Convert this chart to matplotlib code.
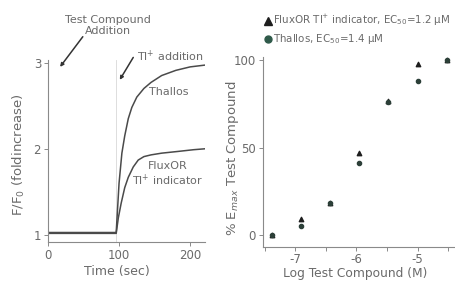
"""Two panels: Tl+ flux traces over time and concentration-response of a test compound."""
import matplotlib

matplotlib.use("Agg")
import matplotlib.pyplot as plt  # noqa: E402
from matplotlib.lines import Line2D  # noqa: E402

# left panel: fluorescence traces (F/F0)
thallos_t = [0, 96, 100, 104, 108, 113, 118, 125, 135, 145, 160, 180, 200, 220]
thallos_v = [1.03, 1.03, 1.6, 1.95, 2.15, 2.35, 2.48, 2.6, 2.7, 2.77, 2.85, 2.91, 2.95, 2.97]
fluxor_t = [0, 96, 99, 103, 108, 113, 120, 127, 135, 145, 160, 183, 205, 220]
fluxor_v = [1.02, 1.02, 1.2, 1.37, 1.55, 1.67, 1.79, 1.87, 1.91, 1.93, 1.95, 1.97, 1.99, 2.0]
step_time = 96

# right panel: % Emax vs log concentration
log_conc = [-7.38, -6.9, -6.43, -5.95, -5.48, -5.0, -4.52]
fluxor_pct = [0, 9, 18, 47, 77, 98, 100]
thallos_pct = [0, 5, 18, 41, 76, 88, 100]

TXT = "#6a6a6a"
LINE = "#4a4a4a"
SPINE = "#8a8a8a"

plt.rcParams["font.family"] = ["DejaVu Sans"]

fig = plt.figure(figsize=(4.56, 2.82), dpi=100)
W, H = 456, 282


def style(ax):
    for s in ("top", "right"):
        ax.spines[s].set_visible(False)
    for s in ("left", "bottom"):
        ax.spines[s].set_color(SPINE)
        ax.spines[s].set_linewidth(0.8)
    ax.tick_params(length=3, width=0.7, color=SPINE, labelcolor=TXT,
                   labelsize=8.5, pad=2)


# ---- left panel
ax1 = fig.add_axes([48 / W, 1 - 242 / H, (205 - 48) / W, (242 - 60) / H])
style(ax1)
ax1.axvline(step_time, color="#d8d8d8", lw=0.6, zorder=0)
ax1.plot(thallos_t, thallos_v, color=LINE, lw=1.1)
ax1.plot(fluxor_t, fluxor_v, color=LINE, lw=1.1)
ax1.set_xlim(0, 221)
ax1.set_ylim(0.92, 3.03)
ax1.set_xticks([0, 100, 200])
ax1.set_yticks([1, 2, 3])

arrow = dict(arrowstyle="-|>", color="#333333", lw=1.1, mutation_scale=5,
             shrinkA=0, shrinkB=0)
ax1.annotate("", xy=(17, 2.95), xytext=(49, 3.3), arrowprops=arrow,
             annotation_clip=False)
ax1.annotate("", xy=(101, 2.8), xytext=(120, 3.06), arrowprops=arrow,
             annotation_clip=False)
ax1.text(85, 3.43, "Test Compound\nAddition", ha="center", va="center",
         fontsize=8, color=TXT, linespacing=1.05, clip_on=False)
ax1.text(125, 3.07, "Tl$^{+}$ addition", ha="left", va="center",
         fontsize=8, color=TXT, clip_on=False)
ax1.text(142, 2.66, "Thallos", ha="left", va="center", fontsize=8, color=TXT)
ax1.text(168, 1.7, "FluxOR\nTl$^{+}$ indicator", ha="center", va="center",
         fontsize=8, color=TXT, linespacing=1.15)

fig.text(19 / W, 1 - 155 / H, "F/F$_0$ (foldincrease)", rotation=90,
         ha="center", va="center", fontsize=9.5, color=TXT)
fig.text(117 / W, 1 - 272 / H, "Time (sec)", ha="center", va="center",
         fontsize=9, color=TXT)

# ---- right panel
ax2 = fig.add_axes([263 / W, 1 - 247 / H, (W - 263) / W, (247 - 57) / H])
style(ax2)
ax2.tick_params(axis="x", pad=1)
ax2.scatter(log_conc, fluxor_pct, marker="^", s=10, color="#1e1e1e", zorder=3)
ax2.scatter(log_conc, thallos_pct, marker="o", s=9, color="#2c3f38", zorder=3)
ax2.set_xlim(-7.53, -4.37)
ax2.set_ylim(-7, 102)
ax2.set_xticks([-7, -6, -5])
ax2.set_xticklabels(["-7", "-6", "-5"])
ax2.set_xticks([-7.5, -6.5, -5.5, -4.5], minor=True)
ax2.tick_params(which="minor", length=3, width=0.7, color=SPINE)
ax2.set_yticks([0, 50, 100])

handles = [
    Line2D([0], [0], marker="^", color="#1e1e1e", linestyle="None",
           markersize=5.5, label="FluxOR Tl$^{+}$ indicator, EC$_{50}$=1.2 \u00b5M"),
    Line2D([0], [0], marker="o", color="#2f5a4a", linestyle="None",
           markersize=5, label="Thallos, EC$_{50}$=1.4 \u00b5M"),
]
fig.legend(handles=handles, loc="upper left", bbox_to_anchor=(263 / W, 1 - 13 / H),
           frameon=False, fontsize=7.4, labelcolor=TXT, handletextpad=0.05,
           handlelength=0.9, borderpad=0, borderaxespad=0, labelspacing=0.4)

fig.text(233 / W, 1 - 158 / H, "% E$_{max}$ Test Compound", rotation=90,
         ha="center", va="center", fontsize=9.5, color=TXT)
fig.text(355 / W, 1 - 274 / H, "Log Test Compound (M)", ha="center",
         va="center", fontsize=8.8, color=TXT)

fig.savefig("out.png", dpi=100)
